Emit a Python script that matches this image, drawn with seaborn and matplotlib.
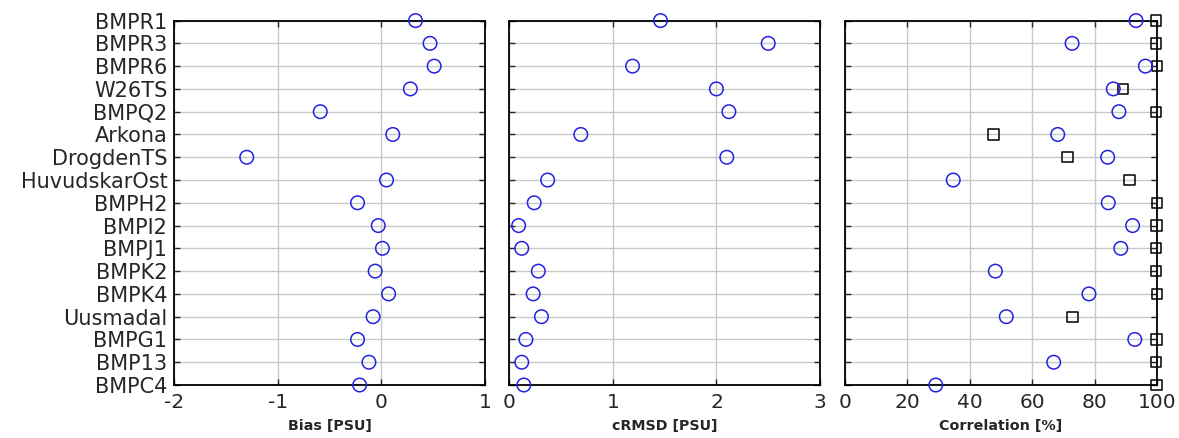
import matplotlib
matplotlib.use("Agg")
import matplotlib.pyplot as plt
import numpy as np
import pandas as pd
import seaborn as sns

sns.set_style("ticks")
plt.rcParams['font.family'] = ['DejaVu Sans']
plt.rcParams['axes.unicode_minus'] = False

# station names, top to bottom
stations = ["BMPR1", "BMPR3", "BMPR6", "W26TS", "BMPQ2", "Arkona", "DrogdenTS",
            "HuvudskarOst", "BMPH2", "BMPI2", "BMPJ1", "BMPK2", "BMPK4",
            "Uusmadal", "BMPG1", "BMP13", "BMPC4"]

bias = [0.33, 0.47, 0.51, 0.28, -0.59, 0.11, -1.30, 0.05, -0.23, -0.03,
        0.01, -0.06, 0.07, -0.08, -0.23, -0.12, -0.21]
crmsd = [1.46, 2.50, 1.19, 2.00, 2.12, 0.69, 2.10, 0.37, 0.24, 0.09,
         0.12, 0.28, 0.23, 0.31, 0.16, 0.12, 0.14]
corr = [93.3, 72.8, 96.3, 86.0, 87.8, 68.2, 84.2, 34.7, 84.4, 92.2,
        88.4, 48.2, 78.2, 51.7, 92.9, 66.9, 29.1]
corr_ref = [99.8, 99.8, 100.0, 89.2, 99.7, 47.6, 71.3, 91.2, 100.0, 99.9,
            99.8, 99.6, 100.0, 72.9, 99.9, 99.8, 99.9]

data = pd.DataFrame({"station": stations, "bias": bias, "crmsd": crmsd,
                     "corr": corr, "corr_ref": corr_ref})

fig = plt.figure(figsize=(11.79, 4.38), dpi=100)
bottom, height = 0.121, 0.832
ax1 = fig.add_axes([0.1478, bottom, 0.2635, height])
ax2 = fig.add_axes([0.4320, bottom, 0.2635, height])
ax3 = fig.add_axes([0.7167, bottom, 0.2646, height])

circle_kw = dict(marker="o", s=95, facecolor="none", edgecolor="#2222e0",
                 linewidth=1.1, clip_on=False, zorder=5, legend=False)

sns.scatterplot(data=data, x="bias", y="station", ax=ax1, **circle_kw)
sns.scatterplot(data=data, x="crmsd", y="station", ax=ax2, **circle_kw)
sns.scatterplot(data=data, x="corr_ref", y="station", ax=ax3, marker="s", s=55,
                facecolor="none", edgecolor="black", linewidth=1.1,
                clip_on=False, zorder=4, legend=False)
sns.scatterplot(data=data, x="corr", y="station", ax=ax3, **circle_kw)

limits = [(-2, 1), (0, 3), (0, 100)]
ticks = [[-2, -1, 0, 1], [0, 1, 2, 3], [0, 20, 40, 60, 80, 100]]
labels = ["Bias [PSU]", "cRMSD [PSU]", "Correlation [%]"]

for ax, lim, tk, lab in zip([ax1, ax2, ax3], limits, ticks, labels):
    ax.set_xlim(*lim)
    ax.set_xticks(tk)
    ax.set_ylim(len(stations) - 1, 0)
    ax.set_yticks(range(len(stations)))
    ax.grid(True, color="#c8c8c8", linewidth=1.0)
    ax.set_axisbelow(True)
    ax.set_xlabel(lab, fontsize=10.3, fontweight="bold", labelpad=5)
    ax.set_ylabel("")
    ax.tick_params(direction="in", top=True, right=True, length=4,
                   width=1, labelsize=14.5, pad=6)
    ax.tick_params(axis="y", labelsize=15, pad=5)
    for sp in ax.spines.values():
        sp.set_linewidth(1.3)
        sp.set_color("black")

ax2.set_yticklabels([])
ax3.set_yticklabels([])

plt.savefig("out.png", dpi=100, facecolor="white")
